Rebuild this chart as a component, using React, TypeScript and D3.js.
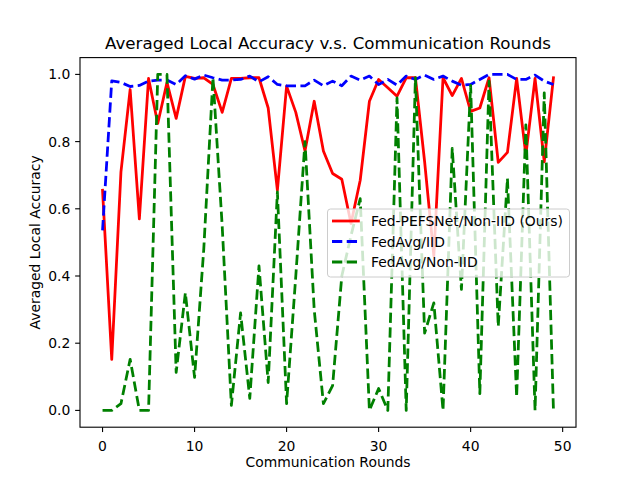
import React from 'react'
import * as d3 from 'd3'

const rounds: number[] = d3.range(50)

const pefsNonIid: number[] = [
    0.655, 0.152, 0.71, 0.955, 0.57, 0.988, 0.854, 0.976, 0.869, 0.994,
    0.988, 0.99, 0.97, 0.887, 0.988, 0.988, 0.99, 0.99, 0.9, 0.655,
    0.965, 0.887, 0.772, 0.92, 0.772, 0.705, 0.688, 0.556, 0.685, 0.92,
    0.985, 0.96, 0.935, 0.99, 0.99, 0.74, 0.46, 0.99, 0.937, 0.988,
    0.89, 0.9, 0.99, 0.738, 0.768, 0.988, 0.76, 0.988, 0.74, 0.99,
]

const fedAvgIid: number[] = [
    0.536, 0.981, 0.976, 0.964, 0.967, 0.98, 0.983, 0.983, 0.97, 0.996,
    0.986, 0.998, 0.99, 0.983, 0.983, 0.985, 0.995, 0.978, 0.993, 0.97,
    0.966, 0.966, 0.966, 0.983, 0.966, 0.98, 0.966, 0.995, 0.983, 0.995,
    0.97, 0.985, 0.968, 0.995, 0.985, 0.998, 0.985, 0.995, 0.98, 0.968,
    0.97, 0.985, 1.0, 1.0, 1.0, 0.985, 0.985, 0.998, 0.98, 0.97,
]

const fedAvgNonIid: number[] = [
    0, 0, 0.02, 0.152, 0, 0, 1.0, 1.0, 0.113, 0.35,
    0.098, 0.48, 0.99, 0.55, 0.015, 0.29, 0.036, 0.43, 0.083, 0.65,
    0.02, 0.4, 0.8, 0.3, 0.02, 0.074, 0.4, 0.52, 0.63, 0.0,
    0.065, 0.0, 0.93, 0.0, 0.99, 0.23, 0.32, 0.0, 0.78, 0.36,
    0.967, 0.05, 0.98, 0.25, 0.69, 0.04, 0.85, 0.0, 0.945, 0.0,
]

const xTicks: number[] = [0, 10, 20, 30, 40, 50]
const yTicks: number[] = [0, 0.2, 0.4, 0.6, 0.8, 1.0]

const seriesNames: string[] = ['Fed-PEFSNet/Non-IID (Ours)', 'FedAvg/IID', 'FedAvg/Non-IID']
const seriesColors: string[] = ['#ff0000', '#0000ff', '#008000']
const seriesDashed: boolean[] = [false, true, true]

const App: React.FC = () => {
    const width = 640
    const height = 480
    const margin = { top: 57.6, right: 64, bottom: 52.8, left: 80 }
    const font = 'DejaVu Sans, sans-serif'
    const lw = 2.78

    // matplotlib 기본 여백 5%
    const x = d3
        .scaleLinear()
        .domain([-2.45, 51.45])
        .range([margin.left, width - margin.right])
    const y = d3
        .scaleLinear()
        .domain([-0.05, 1.05])
        .range([height - margin.bottom, margin.top])

    const line = d3
        .line<number>()
        .x((_, i) => x(rounds[i]))
        .y((d) => y(d))

    const allSeries = [pefsNonIid, fedAvgIid, fedAvgNonIid]
    const dash = `${3.7 * lw} ${1.6 * lw}`
    const tickLen = 4.86
    const x0 = margin.left
    const x1 = width - margin.right
    const y0 = height - margin.bottom
    const y1 = margin.top

    // legend
    const lgX = 327.5
    const lgY = 209
    const lgW = 242
    const lgH = 68
    const rowY = [221, 241.5, 262]

    return (
        <svg
            width={width}
            height={height}
            style={{ position: 'absolute', left: 0, top: 0, background: '#fff' }}
            fontFamily={font}
        >
            <rect x={0} y={0} width={width} height={height} fill="#fff" />
            <defs>
                <clipPath id="plot-clip">
                    <rect x={x0} y={y1} width={x1 - x0} height={y0 - y1} />
                </clipPath>
            </defs>

            <g clipPath="url(#plot-clip)">
                {allSeries.map((s, k) => (
                    <path
                        key={k}
                        d={line(s) || ''}
                        fill="none"
                        stroke={seriesColors[k]}
                        strokeWidth={lw}
                        strokeDasharray={seriesDashed[k] ? dash : undefined}
                        strokeLinejoin="round"
                        strokeLinecap={seriesDashed[k] ? 'butt' : 'square'}
                    />
                ))}
            </g>

            {/* axes frame */}
            <rect x={x0} y={y1} width={x1 - x0} height={y0 - y1} fill="none" stroke="#000" strokeWidth={1.1} />

            {xTicks.map((t) => (
                <g key={t} transform={`translate(${x(t)},${y0})`}>
                    <line y2={tickLen} stroke="#000" strokeWidth={1.1} />
                    <text y={19} textAnchor="middle" fontSize={13.9} dominantBaseline="central">
                        {t}
                    </text>
                </g>
            ))}
            {yTicks.map((t) => (
                <g key={t} transform={`translate(${x0},${y(t)})`}>
                    <line x2={-tickLen} stroke="#000" strokeWidth={1.1} />
                    <text x={-9.7} textAnchor="end" fontSize={13.9} dominantBaseline="central">
                        {t.toFixed(1)}
                    </text>
                </g>
            ))}

            <text x={(x0 + x1) / 2} y={49} textAnchor="middle" fontSize={16.7}>
                Averaged Local Accuracy v.s. Communication Rounds
            </text>
            <text x={(x0 + x1) / 2} y={467} textAnchor="middle" fontSize={13.9}>
                Communication Rounds
            </text>
            <text
                transform={`translate(40,${(y0 + y1) / 2}) rotate(-90)`}
                textAnchor="middle"
                fontSize={13.9}
            >
                Averaged Local Accuracy
            </text>

            {/* legend */}
            <rect
                x={lgX}
                y={lgY}
                width={lgW}
                height={lgH}
                rx={3}
                fill="#fff"
                fillOpacity={0.8}
                stroke="#cccccc"
                strokeWidth={1}
            />
            {seriesNames.map((n, k) => (
                <g key={n}>
                    <line
                        x1={lgX + 4.5}
                        x2={lgX + 32.3}
                        y1={rowY[k]}
                        y2={rowY[k]}
                        stroke={seriesColors[k]}
                        strokeWidth={lw}
                        strokeDasharray={seriesDashed[k] ? dash : undefined}
                    />
                    <text x={lgX + 43.5} y={rowY[k]} dominantBaseline="central" fontSize={13.9}>
                        {n}
                    </text>
                </g>
            ))}
        </svg>
    )
}

export default App
